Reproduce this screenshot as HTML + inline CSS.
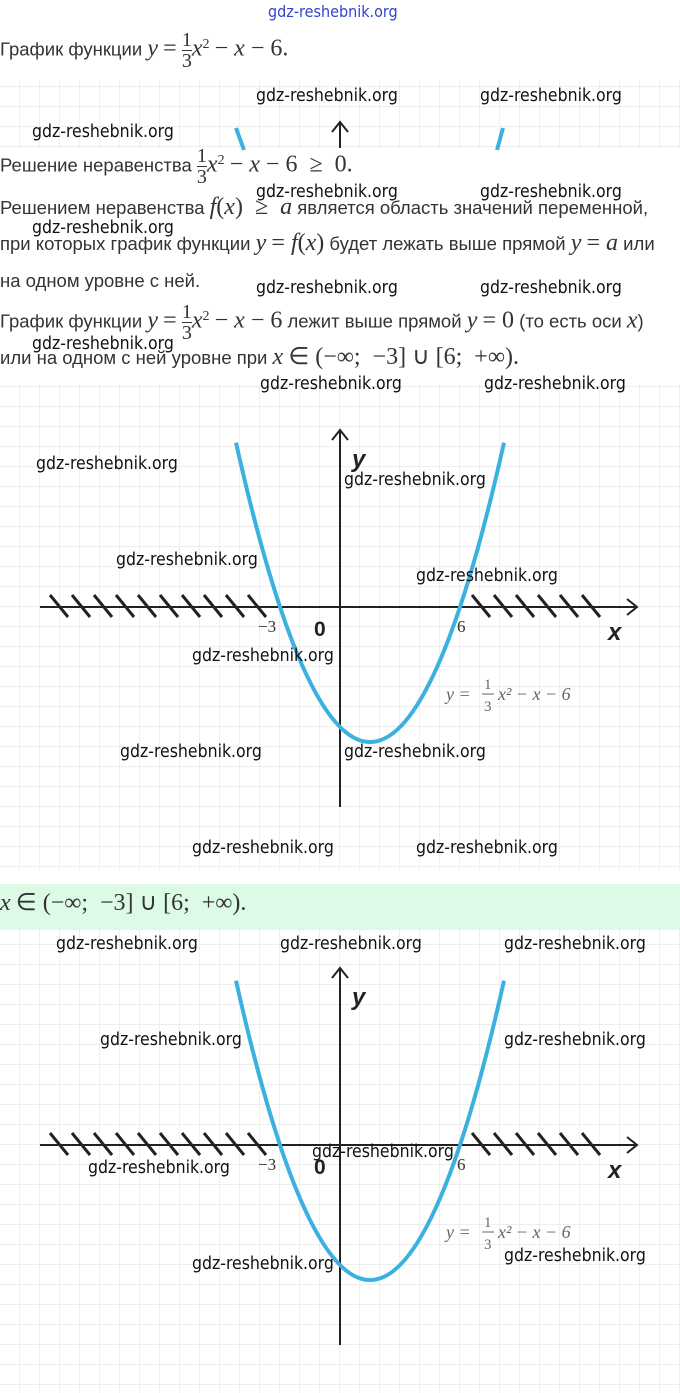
<!DOCTYPE html>
<html><head><meta charset="utf-8"><style>
body{margin:0;width:680px;height:1393px;position:relative;background:#fff;overflow:hidden;font-family:"Liberation Sans",sans-serif}
.t{position:absolute;left:0;font-size:18.5px;color:#333;white-space:nowrap}
.m{font-family:"Liberation Serif",serif;font-style:italic;font-size:24px}
.r{font-family:"Liberation Serif",serif;font-size:24px}
.w{position:absolute;font-size:17.5px;color:#111;white-space:nowrap;font-family:"DejaVu Sans Condensed","Liberation Sans",sans-serif}
.fr{display:inline-block;vertical-align:middle;text-align:center;font-family:"Liberation Serif",serif;font-size:20px;line-height:20px}
.fr span{display:block}
.fr span:first-child{border-bottom:1px solid #333}
</style></head><body>
<svg width="680" height="1393" style="position:absolute;left:0;top:0">
<defs>
<pattern id="g" x="0" y="7" width="20" height="20" patternUnits="userSpaceOnUse"><path d="M20 0V20M0 20H20" stroke="#e4e4e4" stroke-width="1.2" fill="none"/></pattern>
<pattern id="g2" x="0" y="5" width="20" height="20" patternUnits="userSpaceOnUse"><path d="M20 0V20M0 20H20" stroke="#e4e4e4" stroke-width="1.2" fill="none"/></pattern>
<g id="graph">
<g stroke="#222" stroke-width="3">
<path d="M50 595l18 22M72 595l18 22M94 595l18 22M116 595l18 22M138 595l18 22M160 595l18 22M182 595l18 22M204 595l18 22M226 595l18 22M248 595l18 22M472 595l18 22M494 595l18 22M516 595l18 22M538 595l18 22M560 595l18 22M582 595l18 22"/>
</g>
<path d="M40 607H636M627 599l10 8-10 8M340 807V430M332 440l8-10 8 10" stroke="#222" stroke-width="2" fill="none"/>
<path d="M236 442.7Q370 1041.4 504 442.7" stroke="#3cb1e0" stroke-width="4" fill="none"/>
<text x="258" y="632" font-family="Liberation Serif" font-size="17" fill="#333">−3</text>
<text x="314" y="636" font-family="Liberation Sans" font-weight="bold" font-size="21" fill="#222">0</text>
<text x="457" y="632" font-family="Liberation Serif" font-size="17" fill="#333">6</text>
<text x="608" y="640" font-family="Liberation Sans" font-style="italic" font-weight="bold" font-size="24" fill="#222">x</text>
<text x="352" y="467" font-family="Liberation Sans" font-style="italic" font-weight="bold" font-size="24" fill="#222">y</text>
<text x="446" y="700" font-family="Liberation Serif" font-style="italic" font-size="18" fill="#666">y =</text>
<text x="484" y="689" font-family="Liberation Serif" font-size="15" fill="#666">1</text>
<line x1="482" y1="694" x2="494" y2="694" stroke="#666"/>
<text x="484" y="711" font-family="Liberation Serif" font-size="15" fill="#666">3</text>
<text x="498" y="700" font-family="Liberation Serif" font-style="italic" font-size="18" fill="#666">x² − x − 6</text>
</g>
</defs>
<rect x="0" y="80" width="680" height="68" fill="url(#g)"/>
<rect x="0" y="385" width="680" height="485" fill="url(#g)"/>
<rect x="0" y="884" width="680" height="46" fill="#dcfae6"/>
<rect x="0" y="930" width="680" height="463" fill="url(#g2)"/>
<path d="M236 128l8 22M503 128l-6 22" stroke="#3cb1e0" stroke-width="4"/>
<path d="M340 148V122M332 132l8-10 8 10" stroke="#222" stroke-width="2" fill="none"/>
<use href="#graph"/>
<use href="#graph" y="538"/>
</svg>
<div class="w" style="left:268px;top:2px;color:#3344cc;font-size:16px">gdz-reshebnik.org</div>
<div class="t" style="top:30px">График функции <span class="m">y</span> <span class="r">=</span> <span class="fr"><span>1</span><span>3</span></span><span class="m">x</span><sup class="r" style="font-size:14px">2</sup> <span class="r">− <i>x</i> − 6.</span></div>
<div class="t" style="top:146px">Решение неравенства <span class="fr"><span>1</span><span>3</span></span><span class="m">x</span><sup class="r" style="font-size:14px">2</sup> <span class="r">− <i>x</i> − 6 &nbsp;≥ &nbsp;0.</span></div>
<div class="t" style="top:194px">Решением неравенства <span class="m">f</span><span class="r">(<i>x</i>) &nbsp;≥ &nbsp;<i>a</i></span> является область значений переменной,</div>
<div class="t" style="top:230px">при которых график функции <span class="m">y</span> <span class="r">= <i>f</i>(<i>x</i>)</span> будет лежать выше прямой <span class="m">y</span> <span class="r">= <i>a</i></span> или</div>
<div class="t" style="top:270px">на одном уровне с ней.</div>
<div class="t" style="top:302px">График функции <span class="m">y</span> <span class="r">=</span> <span class="fr"><span>1</span><span>3</span></span><span class="m">x</span><sup class="r" style="font-size:14px">2</sup> <span class="r">− <i>x</i> − 6</span> лежит выше прямой <span class="m">y</span> <span class="r">= 0</span> (то есть оси <span class="m">x</span>)</div>
<div class="t" style="top:342px">или на одном с ней уровне при <span class="m">x</span> <span class="r">∈ (−∞; &nbsp;−3] ∪ [6; &nbsp;+∞).</span></div>
<div class="t" style="top:888px"><span class="m">x</span> <span class="r">∈ (−∞; &nbsp;−3] ∪ [6; &nbsp;+∞).</span></div>
<div class="w" style="left:256px;top:86px">gdz-reshebnik.org</div>
<div class="w" style="left:480px;top:86px">gdz-reshebnik.org</div>
<div class="w" style="left:32px;top:122px">gdz-reshebnik.org</div>
<div class="w" style="left:256px;top:182px">gdz-reshebnik.org</div>
<div class="w" style="left:480px;top:182px">gdz-reshebnik.org</div>
<div class="w" style="left:32px;top:218px">gdz-reshebnik.org</div>
<div class="w" style="left:256px;top:278px">gdz-reshebnik.org</div>
<div class="w" style="left:480px;top:278px">gdz-reshebnik.org</div>
<div class="w" style="left:32px;top:334px">gdz-reshebnik.org</div>
<div class="w" style="left:260px;top:374px">gdz-reshebnik.org</div>
<div class="w" style="left:484px;top:374px">gdz-reshebnik.org</div>
<div class="w" style="left:36px;top:454px">gdz-reshebnik.org</div>
<div class="w" style="left:344px;top:470px">gdz-reshebnik.org</div>
<div class="w" style="left:116px;top:550px">gdz-reshebnik.org</div>
<div class="w" style="left:416px;top:566px">gdz-reshebnik.org</div>
<div class="w" style="left:192px;top:646px">gdz-reshebnik.org</div>
<div class="w" style="left:120px;top:742px">gdz-reshebnik.org</div>
<div class="w" style="left:344px;top:742px">gdz-reshebnik.org</div>
<div class="w" style="left:192px;top:838px">gdz-reshebnik.org</div>
<div class="w" style="left:416px;top:838px">gdz-reshebnik.org</div>
<div class="w" style="left:56px;top:934px">gdz-reshebnik.org</div>
<div class="w" style="left:280px;top:934px">gdz-reshebnik.org</div>
<div class="w" style="left:504px;top:934px">gdz-reshebnik.org</div>
<div class="w" style="left:100px;top:1030px">gdz-reshebnik.org</div>
<div class="w" style="left:504px;top:1030px">gdz-reshebnik.org</div>
<div class="w" style="left:312px;top:1142px">gdz-reshebnik.org</div>
<div class="w" style="left:88px;top:1158px">gdz-reshebnik.org</div>
<div class="w" style="left:504px;top:1246px">gdz-reshebnik.org</div>
<div class="w" style="left:192px;top:1254px">gdz-reshebnik.org</div>
</body></html>
